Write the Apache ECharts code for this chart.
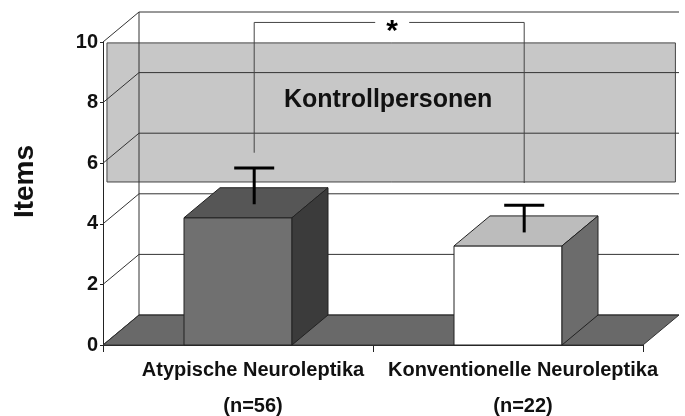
<!DOCTYPE html>
<html><head><meta charset="utf-8">
<script src="https://cdn.jsdelivr.net/npm/echarts@6/dist/echarts.min.js"></script>
<style>html,body{margin:0;padding:0;background:#fff}#c{width:685px;height:416px}</style>
</head><body><div id="c"></div>
<script>
// ---- data ----
const categories = ['Atypische Neuroleptika', 'Konventionelle Neuroleptika'];
const groupSizes = ['(n=56)', '(n=22)'];
const values = [4.2, 3.27];
const errors = [1.2, 0.9];
const yTicks = [0, 2, 4, 6, 8, 10];
const controlRange = [5.38, 9.97];
const controlLabel = 'Kontrollpersonen';
const bracketLevels = [5.9, 10.2, 4.9]; // left foot, top, right foot
const bracketLabel = '*';
const yAxisTitle = 'Items';

// ---- 3D look ----
const DX = 36, DY = -30, EF = 0.45;
const FONT = '"Liberation Sans", Arial, sans-serif';

function frame(api) {
  const band = api.size([1, 0])[0];
  const l = api.coord([0, 0])[0] - band / 2;
  const r = api.coord([categories.length - 1, 0])[0] + band / 2;
  return { band, l, r };
}
const line = (x1, y1, x2, y2, stroke, w) => ({ type: 'line', shape: { x1, y1, x2, y2 }, style: { stroke, lineWidth: w || 1 } });
const poly = (points, fill, stroke) => ({ type: 'polygon', shape: { points }, style: { fill, stroke: stroke || '#222', lineWidth: 1 } });

const chart = echarts.init(document.getElementById('c'), null, { renderer: 'canvas' });
chart.setOption({
  backgroundColor: '#fff',
  animation: false,
  grid: { left: 103, right: 42, top: 42, bottom: 71, containLabel: false, outerBoundsMode: 'none' },
  xAxis: {
    type: 'category', data: categories,
    axisLine: { show: true, lineStyle: { color: '#222', width: 1 } },
    axisTick: { show: true, length: 7, lineStyle: { color: '#222' } },
    splitLine: { show: false },
    axisLabel: {
      margin: 7, interval: 0,
      formatter: (v, i) => '{a|' + v + '}\n{a|' + groupSizes[i] + '}',
      rich: { a: { fontFamily: FONT, fontWeight: 'bold', fontSize: 20, color: '#111', lineHeight: 36, padding: [0, 0, 0, 30] } }
    }
  },
  yAxis: {
    type: 'value', min: 0, max: 10, interval: 2,
    name: yAxisTitle, nameLocation: 'middle', nameRotate: 90, nameGap: 64,
    nameTextStyle: { fontFamily: FONT, fontWeight: 'bold', fontSize: 28, color: '#111', padding: [0, 0, 0, 24] },
    axisLine: { show: true, lineStyle: { color: '#222', width: 1 } },
    axisTick: { show: true, length: 3, lineStyle: { color: '#222' } },
    axisLabel: { margin: 5, fontFamily: FONT, fontWeight: 'bold', fontSize: 20, color: '#111' },
    splitLine: { show: false }
  },
  series: [
    { // floor
      type: 'custom', z: 1, clip: false, silent: true,
      data: [[0, 0]],
      renderItem: (p, api) => {
        const f = frame(api); const y0 = api.coord([0, 0])[1];
        return poly([[f.l, y0], [f.r, y0], [f.r + DX, y0 + DY], [f.l + DX, y0 + DY]], '#696969', '#333');
      }
    },
    { // control band
      type: 'custom', z: 2, clip: false, silent: true,
      data: [[0, controlRange[0], controlRange[1]]],
      renderItem: (p, api) => {
        const f = frame(api);
        const yLo = api.coord([0, api.value(1)])[1], yHi = api.coord([0, api.value(2)])[1];
        const x1 = f.l + DX * 0.11, x2 = f.r + DX * 0.9;
        return { type: 'group', children: [
          { type: 'rect', shape: { x: x1, y: yHi, width: x2 - x1, height: yLo - yHi }, style: { fill: '#c7c7c7', stroke: '#444', lineWidth: 1 } },
          { type: 'text', style: { text: controlLabel, x: (x1 + x2) / 2 - 3, y: (yHi + yLo) / 2 - 12, align: 'center', verticalAlign: 'middle',
            font: 'bold 25px ' + FONT, fill: '#111' } }
        ] };
      }
    },
    { // walls
      type: 'custom', z: 3, clip: false, silent: true,
      data: yTicks.map(v => [0, v]),
      renderItem: (p, api) => {
        const f = frame(api); const v = api.value(1); const y = api.coord([0, v])[1];
        const ch = [line(f.l, y, f.l + DX, y + DY, '#333'), line(f.l + DX, y + DY, f.r + DX, y + DY, '#333')];
        if (v === yTicks[yTicks.length - 1]) {
          const y0 = api.coord([0, yTicks[0]])[1];
          ch.push(line(f.l + DX, y + DY, f.l + DX, y0 + DY, '#333'));
        }
        return { type: 'group', children: ch };
      }
    },
    { // bars
      type: 'custom', z: 4, clip: false, silent: true,
      data: values.map((v, i) => [i, v]),
      renderItem: (p, api) => {
        const i = api.value(0);
        const fronts = ['#707070', '#ffffff'], tops = ['#565656', '#bcbcbc'], sides = ['#3b3b3b', '#6c6c6c'];
        const pt = api.coord([i, api.value(1)]), p0 = api.coord([i, 0]);
        const w = api.size([1, 0])[0] * 0.4;
        const xl = pt[0] - w / 2, xr = pt[0] + w / 2, yt = pt[1], yb = p0[1];
        return { type: 'group', children: [
          poly([[xl, yt], [xr, yt], [xr, yb], [xl, yb]], fronts[i], '#222'),
          poly([[xl, yt], [xr, yt], [xr + DX, yt + DY], [xl + DX, yt + DY]], tops[i], '#222'),
          poly([[xr, yt], [xr + DX, yt + DY], [xr + DX, yb + DY], [xr, yb]], sides[i], '#222')
        ] };
      }
    },
    { // error bars
      type: 'custom', z: 5, clip: false, silent: true,
      data: values.map((v, i) => [i, v, v + errors[i]]),
      renderItem: (p, api) => {
        const i = api.value(0);
        const a = api.coord([i, api.value(1)]), b = api.coord([i, api.value(2)]);
        const x = a[0] + DX * EF, ya = a[1] + DY * EF, yb = b[1] + DY * EF;
        return { type: 'group', children: [
          line(x, ya, x, yb, '#000', 3),
          line(x - 20, yb, x + 20, yb, '#000', 3)
        ] };
      }
    },
    { // significance bracket
      type: 'custom', z: 6, clip: false, silent: true,
      data: [[0, bracketLevels[0], bracketLevels[1], bracketLevels[2]]],
      renderItem: (p, api) => {
        const a = api.coord([0, api.value(1)]), t = api.coord([0, api.value(2)]), c = api.coord([1, api.value(3)]);
        const x1 = a[0] + DX * EF, x2 = c[0] + DX * EF, yT = t[1] + DY * EF;
        const mid = (x1 + x2) / 2 + 3;
        return { type: 'group', children: [
          line(x1, a[1] + DY * EF, x1, yT, '#444'),
          line(x1, yT, mid - 17, yT, '#444'),
          line(mid + 17, yT, x2, yT, '#444'),
          line(x2, yT, x2, c[1] + DY * EF, '#444'),
          { type: 'text', style: { text: bracketLabel, x: mid, y: yT + 9, align: 'center', verticalAlign: 'middle', font: 'bold 30px ' + FONT, fill: '#000' } }
        ] };
      }
    }
  ]
});
</script></body></html>
